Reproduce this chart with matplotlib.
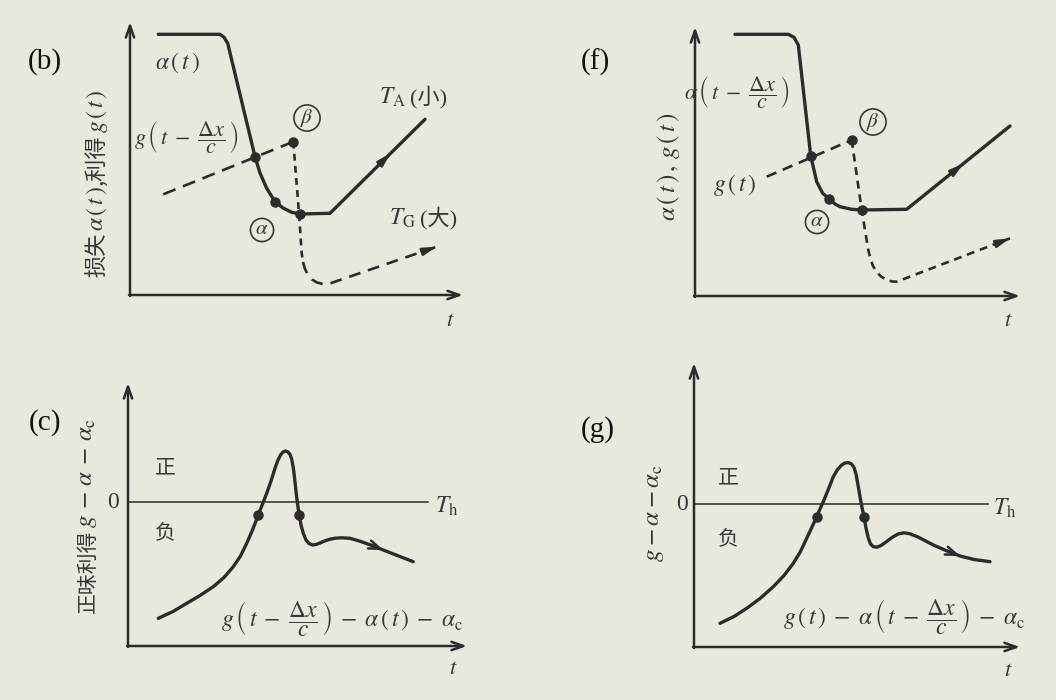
import matplotlib
matplotlib.use("Agg")
import matplotlib.pyplot as plt

plt.rcParams["mathtext.fontset"] = "stix"
plt.rcParams["font.family"] = ["Liberation Serif", "DejaVu Serif"]

PAPER = "#E9E7DE"
INK = "#2c2c2c"
TXT = "#383838"
CJK = ["Noto Sans CJK SC", "DejaVu Sans"]
SERIF_CJK = ["Liberation Serif", "Noto Sans CJK SC"]

# ---- panel (b): loss a(t) and delayed gain g(t - dx/c) -------------------
b_loss_t = [28.3, 90.0, 94.0, 97.7, 125.0, 130.0, 136.7, 145.0, 153.0, 161.7, 170.0, 200.0, 295.0]
b_loss_v = [260.7, 260.7, 257.7, 251.7, 138.3, 122.0, 106.7, 93.3, 87.0, 82.7, 81.0, 81.7, 175.7]
b_gain_t = [33.3, 163.3]
b_gain_v = [100.7, 153.3]
b_drop_t = [163.3, 169.0, 171.7, 173.0, 175.0, 178.0, 182.0, 187.0, 193.0, 198.3, 306.7]
b_drop_v = [153.3, 81.7, 41.7, 33.0, 26.0, 20.0, 15.5, 12.5, 11.0, 11.0, 48.3]
b_dots_t = [125.0, 145.0, 163.3, 170.0]
b_dots_v = [138.3, 93.3, 153.3, 81.0]

# ---- panel (f): delayed loss a(t - dx/c) and gain g(t) -------------------
f_loss_t = [40.0, 93.3, 99.0, 103.3, 115.7, 121.7, 127.7, 134.3, 140.0, 145.0, 156.7, 166.7, 211.7, 315.0]
f_loss_v = [261.7, 261.7, 258.7, 251.0, 140.3, 114.3, 102.7, 97.0, 92.0, 89.3, 86.7, 86.0, 86.7, 170.0]
f_gain_t = [71.7, 156.7]
f_gain_v = [119.3, 156.0]
f_drop_t = [156.7, 166.7, 173.3, 175.5, 178.0, 181.7, 186.0, 191.7, 197.0, 201.7, 315.0]
f_drop_v = [156.0, 86.0, 46.0, 37.0, 30.0, 24.0, 19.5, 16.3, 14.5, 14.3, 57.7]
f_dots_t = [115.7, 134.3, 156.7, 166.7]
f_dots_v = [140.3, 97.0, 156.0, 86.0]

# ---- panel (c): net gain g(t - dx/c) - a(t) - a_c -------------------------
c_net_t = [30.3, 45.0, 58.7, 72.0, 85.3, 96.0, 105.3, 112.5, 118.7, 124.5, 130.3, 134.5,
           138.7, 143.0, 147.0, 150.0, 152.5, 155.0, 157.5, 160.0, 162.0, 163.7, 165.5,
           167.0, 168.5, 170.0, 171.3, 173.0, 175.3, 178.0, 181.0, 184.5, 188.0, 192.0,
           196.0, 201.0, 207.0, 214.0, 222.0, 232.0, 244.0, 255.3, 270.0, 285.3]
c_net_v = [27.7, 34.5, 42.7, 50.5, 59.3, 68.5, 79.3, 90.0, 102.7, 116.0, 131.0, 142.0,
           152.7, 165.0, 177.7, 186.0, 191.0, 194.0, 195.0, 194.0, 191.5, 187.0, 177.0,
           164.0, 150.0, 139.0, 131.0, 121.0, 112.7, 106.0, 102.5, 101.0, 101.5, 103.0,
           104.8, 106.5, 107.8, 108.2, 107.7, 104.8, 100.5, 96.0, 90.2, 84.3]
c_zero = 143.7
c_dots_t = [130.3, 171.3]
c_dots_v = [131.0, 131.0]

# ---- panel (g): net gain g(t) - a(t - dx/c) - a_c -------------------------
g_net_t = [26.0, 40.0, 52.7, 66.0, 79.3, 90.0, 99.3, 106.5, 112.7, 118.0, 122.7, 126.0,
           129.3, 134.5, 139.3, 143.5, 147.7, 151.0, 154.3, 157.5, 160.0, 162.0, 164.0,
           166.0, 168.0, 170.0, 172.0, 174.3, 176.5, 179.3, 183.0, 187.0, 192.0, 198.0,
           204.0, 210.0, 216.0, 224.0, 239.3, 252.0, 266.0, 280.0, 296.0]
g_net_v = [23.7, 30.5, 38.7, 48.5, 60.3, 71.5, 83.7, 95.5, 108.7, 120.0, 130.3, 138.0,
           145.3, 158.0, 170.3, 177.5, 182.0, 184.0, 184.5, 183.0, 179.5, 173.0, 162.0,
           150.3, 139.5, 130.3, 119.0, 109.0, 103.0, 100.3, 99.8, 101.5, 105.0, 109.5,
           113.0, 114.2, 113.2, 110.0, 102.0, 96.5, 91.0, 87.5, 85.3]
g_zero = 142.7
g_dots_t = [122.7, 170.0]
g_dots_v = [130.3, 130.3]


fig = plt.figure(figsize=(10.56, 7), dpi=100, facecolor=PAPER)


def panel(x0, y0, w, h):
    """Axes whose origin sits at pixel (x0, y0); one unit = one pixel."""
    ax = fig.add_axes([x0 / 1056, (700 - y0) / 700, w / 1056, h / 700])
    ax.set_xlim(0, w)
    ax.set_ylim(0, h)
    ax.axis("off")
    ax.patch.set_alpha(0)
    arrow = dict(arrowstyle="->,head_length=0.85,head_width=0.3", color=INK,
                 lw=1.8, shrinkA=0, shrinkB=0)
    ax.annotate("", xy=(0, h), xytext=(0, -1), arrowprops=arrow)
    ax.annotate("", xy=(w, 0), xytext=(-1, 0), arrowprops=arrow)
    return ax


def head(ax, xs, ys, seg, frac, style="-|>,head_length=0.8,head_width=0.22", back=9.0):
    """Arrowhead on segment `seg` of a polyline, at fraction `frac` along it."""
    x0, y0, x1, y1 = xs[seg], ys[seg], xs[seg + 1], ys[seg + 1]
    tx, ty = x0 + frac * (x1 - x0), y0 + frac * (y1 - y0)
    d = ((x1 - x0) ** 2 + (y1 - y0) ** 2) ** 0.5
    bx, by = tx - back * (x1 - x0) / d, ty - back * (y1 - y0) / d
    ax.annotate("", xy=(tx, ty), xytext=(bx, by),
                arrowprops=dict(arrowstyle=style, color=INK, lw=1.8,
                                shrinkA=0, shrinkB=0))


def solid(ax, t, v):
    ax.plot(t, v, color=INK, lw=2.4, solid_joinstyle="round", solid_capstyle="round",
            clip_on=False)


def dashed(ax, t, v, dashes):
    ax.plot(t, v, color=INK, lw=1.9, dashes=dashes, dash_joinstyle="round",
            dash_capstyle="butt", clip_on=False)


def dots(ax, t, v):
    ax.plot(t, v, "o", ms=6.5, color=INK, clip_on=False, zorder=5)


def circled(ax, x, y, s):
    ax.text(x, y, s, fontsize=15, color=TXT, ha="center", va="center",
            bbox=dict(boxstyle="circle,pad=0.1", fc="none", ec=TXT, lw=1.2))


def tag(ax, x, y, s):
    ax.text(x, y, s, fontsize=21, color="#111111", ha="center", va="center",
            family="Liberation Serif")


def note(ax, x, y, s, size=16, **kw):
    ax.text(x, y, s, fontsize=size, color=TXT, ha=kw.pop("ha", "center"),
            va=kw.pop("va", "center"), **kw)


def stacked_label(ax, x, y, pieces):
    """Vertical label built bottom-to-top from (text, family, size) pieces."""
    prev = None
    for txt, fam, size in pieces:
        kw = dict(rotation=90, ha="center", va="bottom", color=TXT, fontsize=size)
        if fam is not None:
            kw["family"] = fam
        if prev is None:
            prev = ax.text(x, y, txt, **kw)
        else:
            prev = ax.annotate(txt, xy=(0.5, 1.0), xycoords=prev,
                               xytext=(0, 1), textcoords="offset points", **kw)


SHIFT = r"\left(\,t\;-\;\dfrac{\Delta x}{c}\,\right)"

# ================================ (b) =====================================
ax = panel(130, 295, 333, 273)
solid(ax, b_loss_t, b_loss_v)
head(ax, b_loss_t, b_loss_v, 11, 0.64)
dashed(ax, b_gain_t, b_gain_v, (5, 3))
dashed(ax, b_drop_t[:4], b_drop_v[:4], (2.6, 2))
dashed(ax, b_drop_t[3:], b_drop_v[3:], (4.5, 3))
head(ax, b_drop_t, b_drop_v, len(b_drop_t) - 2, 1.0)
dots(ax, b_dots_t, b_dots_v)
tag(ax, -85, 233, "(b)")
note(ax, 47, 232, r"$\alpha\,(\,t\,)$", 17)
note(ax, 56, 158, r"$g\," + SHIFT + "$", 16)
circled(ax, 177, 177, r"$\beta$")
circled(ax, 132, 65, r"$\alpha$")
note(ax, 249, 198, r"$T_{\mathrm{A}}$", 17, ha="left")
note(ax, 280, 198, "(小)", 16, ha="left", family=SERIF_CJK)
note(ax, 259, 77, r"$T_{\mathrm{G}}$", 17, ha="left")
note(ax, 290, 77, "(大)", 16, ha="left", family=SERIF_CJK)
note(ax, 320, -27, r"$t$", 16)
stacked_label(ax, -33, 18, [("损失", CJK, 16), (r"$\alpha\,(\,t\,)$", None, 17),
                            (",利得", CJK, 16), (r"$g\,(\,t\,)$", None, 17)])

# ================================ (f) =====================================
ax = panel(695, 296, 325, 269)
solid(ax, f_loss_t, f_loss_v)
head(ax, f_loss_t, f_loss_v, 12, 0.55)
dashed(ax, f_gain_t, f_gain_v, (4, 2.6))
dashed(ax, f_drop_t, f_drop_v, (3, 2.2))
head(ax, f_drop_t, f_drop_v, len(f_drop_t) - 2, 1.0)
dots(ax, f_dots_t, f_dots_v)
tag(ax, -100, 234, "(f)")
note(ax, 42, 204, r"$\alpha\," + SHIFT + "$", 16)
note(ax, 40, 111, r"$g\,(\,t\,)$", 17)
circled(ax, 178, 174, r"$\beta$")
circled(ax, 122, 74, r"$\alpha$")
note(ax, 313, -26, r"$t$", 16)
note(ax, -27, 129, r"$\alpha\,(\,t\,)\,,\,g\,(\,t\,)$", 18, rotation=90)

# ================================ (c) =====================================
ax = panel(128, 646, 339, 263)
ax.plot([0, 300], [c_zero, c_zero], color=INK, lw=1.1)
solid(ax, c_net_t, c_net_v)
head(ax, c_net_t, c_net_v, c_net_t.index(255.3) - 1, 1.0,
     style="->,head_length=0.8,head_width=0.3")
dots(ax, c_dots_t, c_dots_v)
tag(ax, -83, 223, "(c)")
note(ax, -15, c_zero, "0", 17)
note(ax, 319, c_zero - 4, r"$T_{\mathrm{h}}$", 17)
note(ax, 37, 179, "正", 15, family=CJK)
note(ax, 37, 114, "负", 15, family=CJK)
note(ax, 214, 28, r"$g\," + SHIFT +
     r"\;-\;\alpha\,(\,t\,)\;-\;\alpha_{\mathrm{c}}$", 17)
note(ax, 325, -24, r"$t$", 16)
stacked_label(ax, -40, 33, [("正味利得", CJK, 15),
                            (r"$g\,-\,\alpha\,-\,\alpha_{\mathrm{c}}$", None, 18)])

# ================================ (g) =====================================
ax = panel(694, 647, 326, 284)
ax.plot([0, 294], [g_zero, g_zero], color=INK, lw=1.1)
solid(ax, g_net_t, g_net_v)
head(ax, g_net_t, g_net_v, g_net_t.index(266.0) - 1, 1.0,
     style="->,head_length=0.8,head_width=0.3")
dots(ax, g_dots_t, g_dots_v)
tag(ax, -96, 217, "(g)")
note(ax, -12, g_zero, "0", 17)
note(ax, 311, g_zero - 4, r"$T_{\mathrm{h}}$", 17)
note(ax, 34, 170, "正", 15, family=CJK)
note(ax, 34, 109, "负", 15, family=CJK)
note(ax, 210, 30, r"$g\,(\,t\,)\;-\;\alpha\," + SHIFT +
     r"\;-\;\alpha_{\mathrm{c}}$", 17)
note(ax, 314, -25, r"$t$", 16)
note(ax, -39, 134, r"$g-\alpha-\alpha_{\mathrm{c}}$", 18, rotation=90)

fig.savefig("out.png", dpi=100, facecolor=PAPER)
